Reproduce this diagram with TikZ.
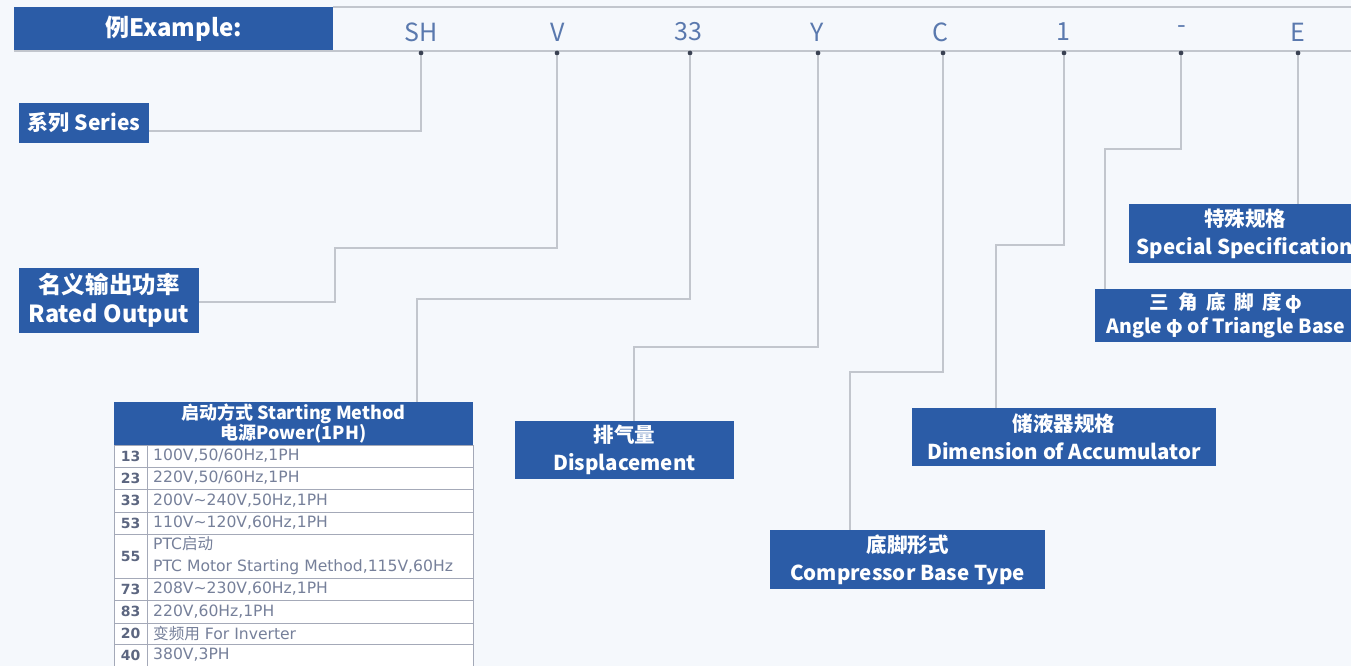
\documentclass[tikz,border=0pt]{standalone}
\usepackage{fontspec}
\setmainfont{Noto Sans CJK SC}
\newfontfamily\tabfont{DejaVu Sans}
\newfontfamily\cjkf{Noto Sans CJK SC}
\definecolor{navy}{HTML}{2B5CA7}
\definecolor{bgc}{HTML}{F5F8FC}
\definecolor{linec}{HTML}{C2C6CD}
\definecolor{dotc}{HTML}{3A4152}
\definecolor{letc}{HTML}{5A79AE}
\definecolor{tabtxt}{HTML}{76809A}
\definecolor{tabnum}{HTML}{5C6680}
\definecolor{tabline}{HTML}{A4A9B8}
\begin{document}
\begin{tikzpicture}[x=1pt,y=-1pt,
  lab/.style={fill=navy, text=white, align=center, inner sep=0pt, font=\fontsize{20.5}{28}\selectfont\bfseries},
  letter/.style={text=letc, font=\fontsize{25}{25}\selectfont, inner sep=0pt},
  conn/.style={draw=linec, line width=1.6pt},
  dotn/.style={circle, fill=dotc, inner sep=0pt, minimum size=4.5pt},
  tnum/.style={text=tabnum, font=\tabfont\fontsize{14}{15}\selectfont\bfseries, inner sep=0pt},
  ttxt/.style={text=tabtxt, font=\tabfont\fontsize{15.6}{22}\selectfont, inner sep=0pt, anchor=west, align=left}]
\fill[bgc] (0,0) rectangle (1351,666);
\useasboundingbox (0,0) rectangle (1351,666);
% top bar
\draw[linec, line width=1.6pt] (333,7) -- (1351,7);
\draw[linec, line width=1.6pt] (14,51) -- (1351,51);
\node[fill=navy, text=white, minimum width=319pt, minimum height=43pt, inner sep=0pt,
  font=\fontsize{24}{24}\selectfont\bfseries] (ex) at (173.5,29) {例Example:};
\node[letter] (lSH) at (421,32) {SH};
\node[letter] (lV) at (558,32) {V};
\node[letter] (l33) at (688,32) {33};
\node[letter] (lY) at (817,32) {Y};
\node[letter] (lC) at (940,32) {C};
\node[letter] (l1) at (1063,32) {1};
\node[letter] (lD) at (1182,30) {-};
\node[letter] (lE) at (1298,32) {E};
% labels
\node[lab, minimum width=130pt, minimum height=40pt, font=\fontsize{21}{26}\selectfont\bfseries] (series) at (84,123) {系列 Series};
\node[lab, minimum width=180pt, minimum height=65pt, font=\fontsize{23.5}{29}\selectfont\bfseries] (rated) at (109,300.5) {名义输出功率\\Rated Output};
\node[lab, minimum width=219pt, minimum height=58pt] (disp) at (624.5,450) {排气量\\Displacement};
\node[lab, minimum width=275pt, minimum height=59pt] (base) at (907.5,559.5) {底脚形式\\Compressor Base Type};
\node[lab, minimum width=304pt, minimum height=58pt] (acc) at (1064,437) {储液器规格\\Dimension of Accumulator};
\node[lab, minimum width=232pt, minimum height=59pt] (spec) at (1245,233.5) {特殊规格\\Special Specification};
\node[lab, minimum width=262pt, minimum height=53pt, font=\fontsize{19.5}{24}\selectfont\bfseries] (angle) at (1226,315.5) {三\hspace{0.45em}角\hspace{0.45em}底\hspace{0.45em}脚\hspace{0.45em}度\,φ\\Angle φ of Triangle Base};
% table
\node[fill=navy, text=white, minimum width=359pt, minimum height=43pt, inner sep=0pt, align=center,
  font=\fontsize{18}{18.5}\selectfont\bfseries] (thead) at (293.5,423.5) {启动方式 Starting Method\\电源Power(1PH)};
\foreach \a/\b in {445/467,467/489,489/512,512/534,534/578,578/600,600/623,623/644,644/690}
  \filldraw[fill=white, draw=tabline, line width=1pt] (114,\a) rectangle (473,\b);
\draw[tabline, line width=1pt] (147,445) -- (147,690);
\node[tnum] (n13) at (130.5,456) {13};
\node[ttxt] (t13) at (153,456) {100V,50/60Hz,1PH};
\node[tnum] (n23) at (130.5,478) {23};
\node[ttxt] (t23) at (153,478) {220V,50/60Hz,1PH};
\node[tnum] (n33) at (130.5,500.5) {33};
\node[ttxt] (t33) at (153,500.5) {200V\textasciitilde240V,50Hz,1PH};
\node[tnum] (n53) at (130.5,523) {53};
\node[ttxt] (t53) at (153,523) {110V\textasciitilde120V,60Hz,1PH};
\node[tnum] (n55) at (130.5,556) {55};
\node[ttxt] (t55) at (153,556) {PTC{\cjkf 启动}\\PTC Motor Starting Method,115V,60Hz};
\node[tnum] (n73) at (130.5,589) {73};
\node[ttxt] (t73) at (153,589) {208V\textasciitilde230V,60Hz,1PH};
\node[tnum] (n83) at (130.5,611.5) {83};
\node[ttxt] (t83) at (153,611.5) {220V,60Hz,1PH};
\node[tnum] (n20) at (130.5,633.5) {20};
\node[ttxt] (t20) at (153,633.5) {{\cjkf 变频用} For Inverter};
\node[tnum] (n40) at (130.5,655) {40};
\node[ttxt] (t40) at (153,655) {380V,3PH};
% dots
\node[dotn] (dSH) at (421,53) {};
\node[dotn] (dV) at (557,53) {};
\node[dotn] (d33) at (690,53) {};
\node[dotn] (dY) at (818,53) {};
\node[dotn] (dC) at (943,53) {};
\node[dotn] (d1) at (1064,53) {};
\node[dotn] (dD) at (1181,53) {};
\node[dotn] (dE) at (1298,53) {};
% connector bends
\coordinate (bSH) at (421,131);
\coordinate (bV1) at (557,248);
\coordinate (bV2) at (335,248);
\coordinate (bV3) at (335,302);
\coordinate (b33a) at (690,299);
\coordinate (b33b) at (417,299);
\coordinate (bYa) at (818,347);
\coordinate (bYb) at (634,347);
\coordinate (bCa) at (943,372);
\coordinate (bCb) at (850,372);
\coordinate (b1a) at (1064,245);
\coordinate (b1b) at (996,245);
\coordinate (bDa) at (1181,149);
\coordinate (bDb) at (1105,149);
\draw[conn] (dSH.center) -- (bSH) -- (series.east |- bSH);
\draw[conn] (dV.center) -- (bV1) -- (bV2) -- (bV3) -- (rated.east |- bV3);
\draw[conn] (d33.center) -- (b33a) -- (b33b) -- (b33b |- thead.north);
\draw[conn] (dY.center) -- (bYa) -- (bYb) -- (bYb |- disp.north);
\draw[conn] (dC.center) -- (bCa) -- (bCb) -- (bCb |- base.north);
\draw[conn] (d1.center) -- (b1a) -- (b1b) -- (b1b |- acc.north);
\draw[conn] (dD.center) -- (bDa) -- (bDb) -- (bDb |- angle.north);
\draw[conn] (dE.center) -- (dE.center |- spec.north);
\foreach \n in {SH,V,33,Y,C,1,D,E} \fill[dotc] (d\n) circle (2.25pt);
\end{tikzpicture}
\end{document}
